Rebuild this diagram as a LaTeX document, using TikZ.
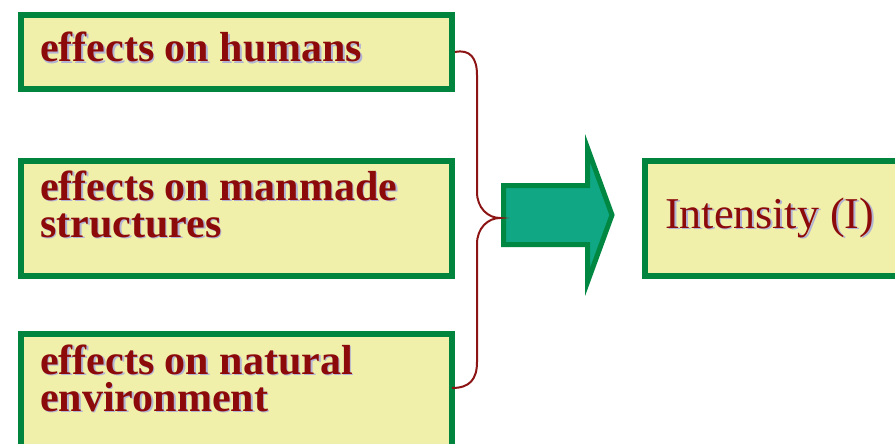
\documentclass[tikz,border=0pt]{standalone}
\usepackage{fontspec}
\setmainfont{Liberation Serif}
\definecolor{boxgreen}{RGB}{0,132,62}
\definecolor{boxfill}{RGB}{240,240,170}
\definecolor{txtred}{RGB}{140,10,10}
\definecolor{txtshadow}{RGB}{178,178,212}
\definecolor{arrowfill}{RGB}{16,168,132}
\definecolor{arrowedge}{RGB}{0,135,65}
\definecolor{bracecol}{RGB}{140,20,20}
% text with a soft drop shadow, set in one box
\newcommand\shadowed[1]{\rlap{\hspace{1.8pt}\raisebox{-1.8pt}{\color{txtshadow}#1}}#1}
\tikzset{
  box/.style={draw=boxgreen, fill=boxfill, line width=6pt, rectangle, inner sep=0pt, anchor=north west},
  lbl/.style={text=txtred, inner sep=0pt, anchor=base west, font=\fontsize{42}{42}\selectfont\bfseries},
  rlbl/.style={lbl, font=\fontsize{44}{44}\selectfont},
  brace/.style={draw=bracecol, line width=2pt},
  bigarrow/.style={draw=arrowedge, fill=arrowfill, line width=5pt, line join=miter}
}
\begin{document}
\begin{tikzpicture}[x=1pt,y=-1pt]
\useasboundingbox (0,0) rectangle (895,444);
\clip (0,0) rectangle (895,444);

% source boxes
\node[box, minimum width=431pt, minimum height=74pt]  (b1) at (18,12)  {};
\node[box, minimum width=431pt, minimum height=115pt] (b2) at (18,158) {};
\node[box, minimum width=431pt, minimum height=150pt] (b3) at (18,331) {};
% result box
\node[box, minimum width=300pt, minimum height=115pt] (b4) at (642,158) {};

% labels
\node[lbl] (t1)  at (40,62)  {\shadowed{effects on humans}};
\node[lbl] (t2a) at (40,200) {\shadowed{effects on manmade}};
\node[lbl] (t2b) at (40,237) {\shadowed{structures}};
\node[lbl] (t3a) at (40,374) {\shadowed{effects on natural}};
\node[lbl] (t3b) at (40,411) {\shadowed{environment}};
\node[rlbl] (t4) at (665,228) {\shadowed{Intensity (I)}};

% block arrow
\draw[bigarrow] (503.5,185.5) -- (587.5,185.5) -- (587.5,148) -- (612,215)
  -- (587.5,282) -- (587.5,244.5) -- (503.5,244.5) -- cycle;
\coordinate (tip) at (500,218);

% curly brace gathering the three boxes
\coordinate (b3e) at (452,388);
\draw[brace] (b1.east) .. controls (470,49) and (477,58) .. (477,75)
  -- (477,192) .. controls (477,208) and (488,218) .. (tip)
  .. controls (488,218) and (477,228) .. (477,244)
  -- (477,362) .. controls (477,379) and (470,388) .. (b3e);
\end{tikzpicture}
\end{document}
